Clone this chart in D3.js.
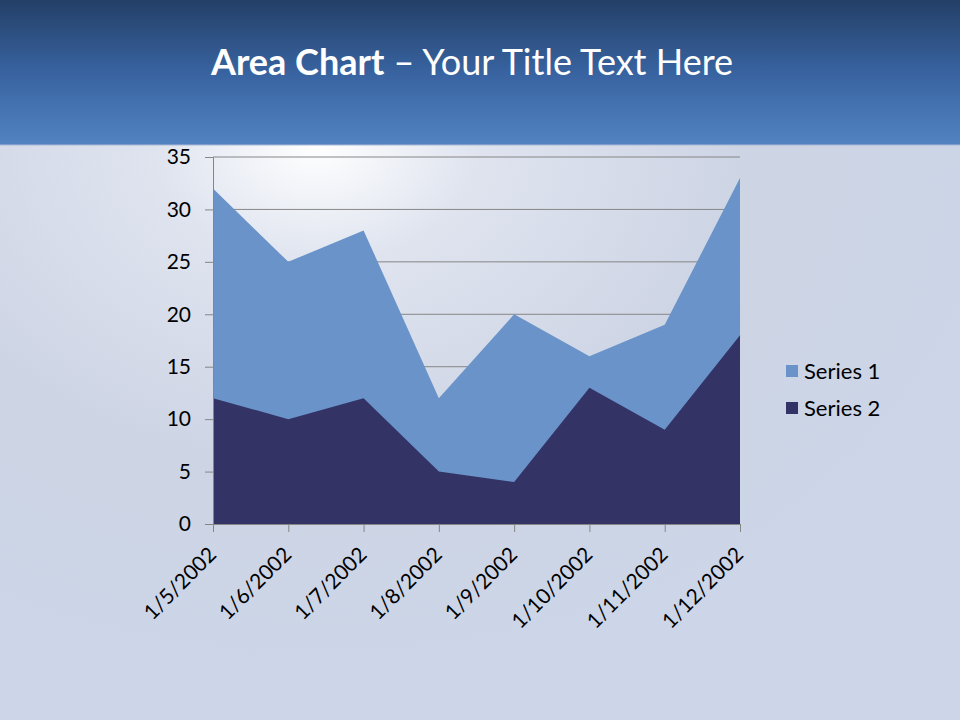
<!DOCTYPE html>
<html><head><meta charset="utf-8">
<script src="https://cdn.jsdelivr.net/npm/d3@7"></script>
<style>html,body{margin:0;padding:0;overflow:hidden;background:#cfd6e6}</style>
</head><body>
<script>
const categories = ["1/5/2002","1/6/2002","1/7/2002","1/8/2002","1/9/2002","1/10/2002","1/11/2002","1/12/2002"];
const series1 = [32, 25, 28, 12, 20, 16, 19, 33];
const series2 = [12, 10, 12, 5, 4, 13, 9, 18];
const seriesNames = ["Series 1", "Series 2"];
const yTicks = [0, 5, 10, 15, 20, 25, 30, 35];
const colors = ["#6a93c9", "#333366"];

const W = 960, H = 720;
const font = "Lato, 'Open Sans', sans-serif";
const svg = d3.select("body").append("svg").attr("width", W).attr("height", H);
const defs = svg.append("defs");

const hg = defs.append("linearGradient").attr("id","hdr").attr("x1",0).attr("y1",0).attr("x2",0).attr("y2",1);
hg.append("stop").attr("offset","0%").attr("stop-color","#243f67");
hg.append("stop").attr("offset","50%").attr("stop-color","#3863a0");
hg.append("stop").attr("offset","100%").attr("stop-color","#5383c2");

const bg = defs.append("radialGradient").attr("id","bgr").attr("cx",0.33).attr("cy",0.2).attr("r",0.75);
bg.append("stop").attr("offset","0%").attr("stop-color","#ffffff");
bg.append("stop").attr("offset","22%").attr("stop-color","#dfe4ef");
bg.append("stop").attr("offset","60%").attr("stop-color","#cdd4e4");
bg.append("stop").attr("offset","100%").attr("stop-color","#ccd6e8");

svg.append("rect").attr("width",W).attr("height",H).attr("fill","url(#bgr)");
svg.append("rect").attr("width",W).attr("height",145).attr("fill","url(#hdr)");
svg.append("line").attr("x1",0).attr("x2",W).attr("y1",145).attr("y2",145).attr("stroke","#aab8d4").attr("stroke-width",1);

const title = svg.append("text").attr("x",472).attr("y",75).attr("text-anchor","middle")
  .attr("font-family",font).attr("font-size",36).attr("fill","#ffffff");
title.append("tspan").attr("font-weight","bold").text("Area Chart");
title.append("tspan").text(" \u2013 Your Title Text Here");

const x0 = 213, x1 = 740, y0 = 524, y1 = 157;
const x = d3.scalePoint().domain(categories).range([x0, x1]);
const y = d3.scaleLinear().domain([0, 35]).range([y0, y1]);

const g = svg.append("g");
g.selectAll(".grid").data(yTicks.filter(d=>d>0)).enter().append("line")
  .attr("x1",x0).attr("x2",x1).attr("y1",d=>y(d)).attr("y2",d=>y(d))
  .attr("stroke","#868686").attr("stroke-width",1);

const area = d3.area().x((d,i)=>x(categories[i])).y0(y(0)).y1(d=>y(d));
[series1, series2].forEach((s,i)=>{
  g.append("path").datum(s).attr("d",area).attr("fill",colors[i]);
});

const yAxis = d3.axisLeft(y).tickValues(yTicks).tickSize(8).tickPadding(14);
const ya = svg.append("g").attr("transform",`translate(${x0},0)`).call(yAxis);
ya.select(".domain").attr("stroke","#868686");
ya.selectAll(".tick line").attr("stroke","#868686");
ya.selectAll(".tick text").attr("font-family",font).attr("font-size",21).attr("fill","#000");

const xAxis = d3.axisBottom(x).tickSize(8).tickSizeOuter(0).tickPadding(6);
const xa = svg.append("g").attr("transform",`translate(0,${y0})`).call(xAxis);
xa.select(".domain").attr("stroke","#868686");
xa.selectAll(".tick line").attr("stroke","#868686");
xa.selectAll(".tick text").attr("font-family",font).attr("font-size",21).attr("fill","#000")
  .attr("text-anchor","end").attr("dy",null).attr("y",0)
  .attr("transform","translate(4,32) rotate(-45)");

const lg = svg.append("g");
seriesNames.forEach((n,i)=>{
  const ly = 371 + i*37;
  lg.append("rect").attr("x",786).attr("y",ly-6).attr("width",12).attr("height",12).attr("fill",colors[i]);
  lg.append("text").attr("x",804).attr("y",ly).attr("dy","0.35em").attr("font-family",font)
    .attr("font-size",22).attr("fill","#000").text(n);
});
</script>
</body></html>
